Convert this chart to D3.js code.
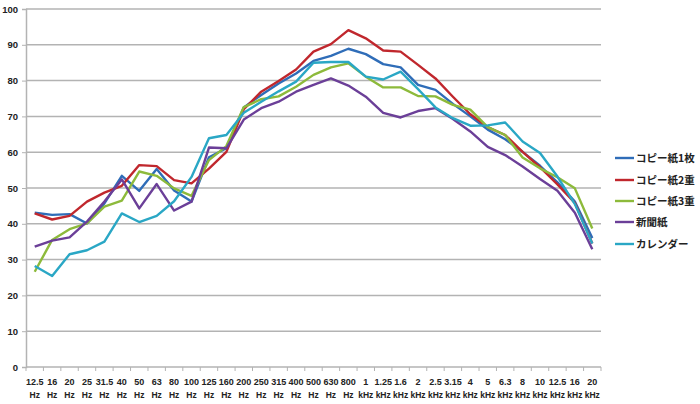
<!DOCTYPE html>
<html><head><meta charset="utf-8">
<script src="https://cdn.jsdelivr.net/npm/d3@7"></script>
<style>
html,body{margin:0;padding:0;background:#fff;}
svg{display:block;}
text{font-family:"Liberation Sans",Arial,sans-serif;}
</style></head>
<body>
<svg id="c" width="700" height="404"></svg>
<script>
const freqNums = ["12.5","16","20","25","31.5","40","50","63","80","100","125","160","200","250","315","400","500","630","800","1","1.25","1.6","2","2.5","3.15","4","5","6.3","8","10","12.5","16","20"];
const freqUnits = ["Hz","Hz","Hz","Hz","Hz","Hz","Hz","Hz","Hz","Hz","Hz","Hz","Hz","Hz","Hz","Hz","Hz","Hz","Hz","kHz","kHz","kHz","kHz","kHz","kHz","kHz","kHz","kHz","kHz","kHz","kHz","kHz","kHz"];
const seriesNames = ["コピー紙1枚","コピー紙2重","コピー紙3重","新聞紙","カレンダー"];
const copy1 = [43.1,42.5,42.7,40.1,45.7,53.4,49.2,55.3,49.3,46.2,58.6,61.1,72.5,76.0,79.2,82.0,85.5,86.9,88.9,87.4,84.6,83.7,78.8,77.4,73.5,70.0,66.3,63.6,60.1,56.2,51.6,46.2,36.0];
const copy2 = [42.9,41.2,42.2,46.2,48.7,50.6,56.4,56.1,52.2,51.3,55.4,60.1,72.0,76.9,79.9,83.1,88.1,90.2,94.1,91.8,88.4,88.1,84.4,80.6,75.5,70.6,67.0,64.8,60.1,55.8,51.0,45.8,34.5];
const copy3 = [26.6,35.5,38.5,40.1,44.8,46.5,54.6,53.4,49.9,47.8,57.8,61.7,72.6,74.8,75.6,78.3,81.6,83.7,84.8,81.1,78.1,78.1,75.7,75.6,73.2,71.9,67.0,64.8,58.5,55.5,53.0,49.9,38.7];
const news = [33.6,35.3,36.2,40.6,46.2,52.4,44.3,51.1,43.7,46.2,61.3,61.1,69.1,72.3,74.1,76.9,78.8,80.6,78.6,75.5,71.0,69.7,71.5,72.3,69.3,65.8,61.5,59.2,56.0,52.5,49.2,43.1,32.9];
const calendar = [28.2,25.4,31.5,32.6,35.0,42.9,40.5,42.2,46.3,53.1,63.9,64.8,71.0,74.1,77.0,79.7,85.0,85.2,85.2,81.1,80.3,82.5,77.6,72.5,69.5,67.4,67.5,68.3,63.0,59.8,53.2,45.5,34.5];
const yTicks = [0,10,20,30,40,50,60,70,80,90,100];
const colors = ["#2f6db8","#c0272d","#8dba3b","#6b3f98","#2aa7c5"];
const seriesData = [copy1, copy2, copy3, news, calendar];

const svg = d3.select("#c");
const L = 26, R = 601, T = 9, B = 367;
const idx = d3.range(freqNums.length);
const xb = d3.scaleBand().domain(idx).range([L, R]).paddingInner(0).paddingOuter(0);
const x = i => xb(i) + xb.bandwidth()/2;
const y = d3.scaleLinear().domain([0,100]).range([B, T]);

// gridlines
svg.append("g").selectAll("line").data(yTicks.filter(d=>d>0)).join("line")
  .attr("x1", L).attr("x2", R).attr("y1", d=>y(d)).attr("y2", d=>y(d))
  .attr("stroke", "#b3b3b3").attr("stroke-width", 1.5);

// y axis
const yAxis = svg.append("g").attr("transform", `translate(${L},0)`)
  .call(d3.axisLeft(y).tickValues(yTicks).tickSize(4).tickPadding(4));
yAxis.select(".domain").attr("stroke", "#b3b3b3").attr("stroke-width", 1.5);
yAxis.selectAll(".tick line").attr("stroke", "#b3b3b3");
yAxis.selectAll(".tick text").attr("font-size", 9.5).attr("fill", "#222").attr("font-weight", "bold");

// x axis
const xg = svg.append("g");
xg.append("line").attr("x1", L).attr("x2", R).attr("y1", B).attr("y2", B)
  .attr("stroke", "#b3b3b3").attr("stroke-width", 1.5);
xg.selectAll("line.t").data(d3.range(freqNums.length+1)).join("line").attr("class","t")
  .attr("x1", d=>L + d*xb.bandwidth()).attr("x2", d=>L + d*xb.bandwidth())
  .attr("y1", B).attr("y2", B+4).attr("stroke", "#b3b3b3");
xg.selectAll("text.n").data(idx).join("text").attr("class","n")
  .attr("x", d=>x(d)).attr("y", 385).attr("text-anchor","middle")
  .attr("font-size", 9).attr("font-weight","bold").attr("fill","#222").text(d=>freqNums[d]);
xg.selectAll("text.u").data(idx).join("text").attr("class","u")
  .attr("x", d=>x(d)).attr("y", 398).attr("text-anchor","middle")
  .attr("font-size", 8.5).attr("font-weight","bold").attr("fill","#222").text(d=>freqUnits[d]);

// lines
const line = d3.line().x((d,i)=>x(i)).y(d=>y(d));
seriesData.forEach((s,k)=>{
  svg.append("path").datum(s).attr("d", line).attr("fill","none")
    .attr("stroke", colors[k]).attr("stroke-width", 2.4).attr("stroke-linejoin","round");
});

// legend
const lg = svg.append("g");
const legY = [158,180,201,222,244];
seriesNames.forEach((n,k)=>{
  lg.append("line").attr("x1",615).attr("x2",634).attr("y1",legY[k]).attr("y2",legY[k])
    .attr("stroke",colors[k]).attr("stroke-width",2.4);
  lg.append("text").attr("x",636).attr("y",legY[k]+4).attr("font-size",10.5)
    .attr("font-weight","bold").attr("fill","#222")
    .style("font-family","'Noto Sans CJK JP',sans-serif").text(n);
});
</script>
</body></html>
